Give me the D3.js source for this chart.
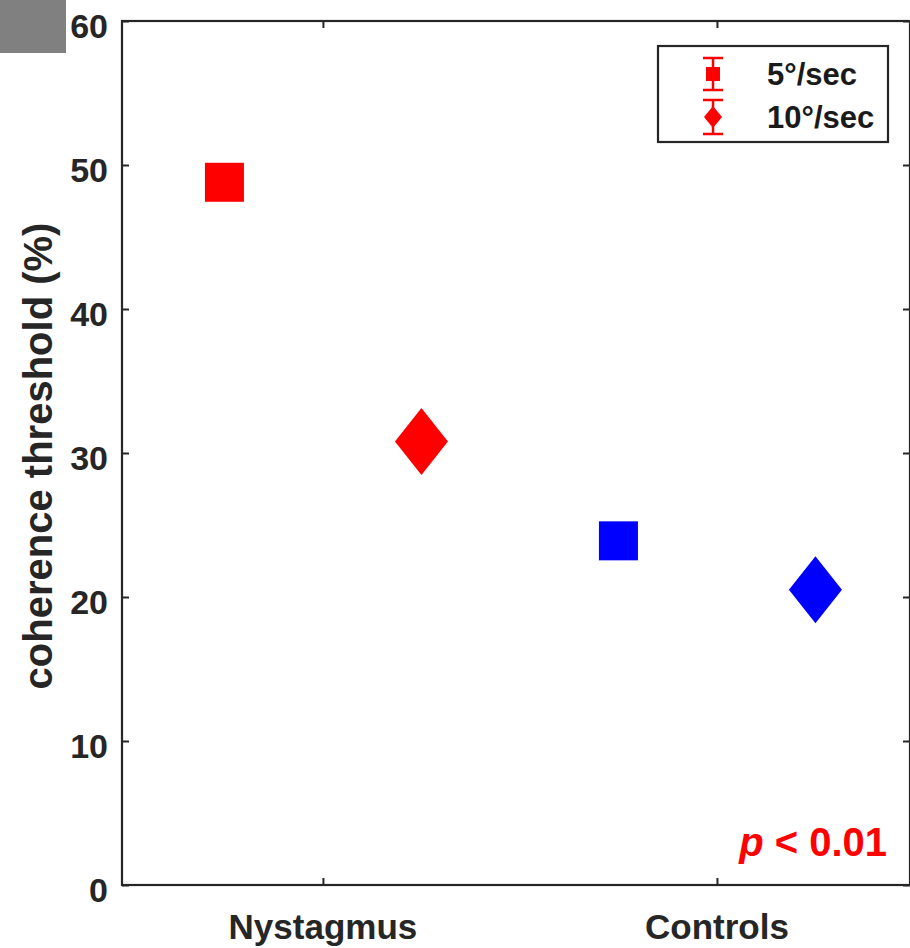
<!DOCTYPE html>
<html>
<head>
<meta charset="utf-8">
<script src="https://cdn.jsdelivr.net/npm/d3@7"></script>
<style>
  html, body { margin: 0; padding: 0; background: #ffffff; }
  svg { display: block; }
  text { font-family: "Liberation Sans", Arial, Helvetica, sans-serif; }
</style>
</head>
<body>
<svg id="chart" width="910" height="948"></svg>
<script>
// Coherence thresholds per group and motion speed
const groups = ["Nystagmus", "Controls"];
const speeds = ["5°/sec", "10°/sec"];
const threshold5 = [48.8, 23.9];
const threshold10 = [30.8, 20.5];
const groupColors = ["#ff0000", "#0000ff"];
const yTicks = [0, 10, 20, 30, 40, 50, 60];
const pLabel = "< 0.01";

const svg = d3.select("#chart");
const plotLeft = 122, plotRight = 910, plotTop = 21, plotBottom = 885;
const axisColor = "#262626";

const x = d3.scaleLinear().domain([0.49, 2.49]).range([plotLeft, plotRight]);
const y = d3.scaleLinear().domain([0, 60]).range([plotBottom, plotTop]);

// Small grey block in the top-left corner
svg.append("rect").attr("x", 0).attr("y", 0).attr("width", 66).attr("height", 53).attr("fill", "#808080");

// Axes (inward ticks, box on)
const tickLen = 7;
const yAxisL = d3.axisLeft(y).tickValues(yTicks).tickSize(-tickLen).tickFormat("");
const yAxisR = d3.axisRight(y).tickValues(yTicks).tickSize(-tickLen).tickFormat("");
const xAxisB = d3.axisBottom(x).tickValues([1, 2]).tickSize(-tickLen).tickFormat("");
const xAxisT = d3.axisTop(x).tickValues([1, 2]).tickSize(-tickLen).tickFormat("");

function styleAxis(g) {
  g.select(".domain").remove();
  g.selectAll(".tick line").attr("stroke", axisColor).attr("stroke-width", 2);
}
svg.append("g").attr("transform", `translate(${plotLeft},0)`).call(yAxisL).call(styleAxis);
svg.append("g").attr("transform", `translate(${plotRight},0)`).call(yAxisR).call(styleAxis);
svg.append("g").attr("transform", `translate(0,${plotBottom})`).call(xAxisB).call(styleAxis);
svg.append("g").attr("transform", `translate(0,${plotTop})`).call(xAxisT).call(styleAxis);

// Frame
svg.append("rect")
  .attr("x", plotLeft).attr("y", plotTop)
  .attr("width", plotRight - plotLeft).attr("height", plotBottom - plotTop)
  .attr("fill", "none").attr("stroke", axisColor).attr("stroke-width", 2.2);

// Y tick labels
svg.append("g").selectAll("text").data(yTicks).join("text")
  .attr("x", 108).attr("y", d => y(d) + 17)
  .attr("text-anchor", "end")
  .attr("font-size", 34).attr("font-weight", "bold").attr("fill", "#262626")
  .text(d => d);

// X tick labels
svg.append("g").selectAll("text").data(groups).join("text")
  .attr("x", (d, i) => x(i + 1)).attr("y", 939)
  .attr("text-anchor", "middle")
  .attr("font-size", 35).attr("font-weight", "bold").attr("fill", "#262626")
  .text(d => d);

// Y axis title
svg.append("text")
  .attr("transform", `translate(52,${(plotTop + plotBottom) / 2 + 3}) rotate(-90)`)
  .attr("text-anchor", "middle")
  .attr("font-size", 40).attr("font-weight", "bold").attr("fill", "#262626")
  .text("coherence threshold (%)");

// Markers
const squareSide = 39;
const diamondW = 53, diamondH = 67;
const offsets = [-0.25, 0.25];

const pts = [];
groups.forEach((g, i) => {
  pts.push({ g: i, s: 0, v: threshold5[i] });
  pts.push({ g: i, s: 1, v: threshold10[i] });
});

const marks = svg.append("g");
pts.forEach(p => {
  const cx = x(p.g + 1 + offsets[p.s]);
  const cy = y(p.v);
  if (p.s === 0) {
    marks.append("rect")
      .attr("x", cx - squareSide / 2).attr("y", cy - squareSide / 2)
      .attr("width", squareSide).attr("height", squareSide)
      .attr("fill", groupColors[p.g]);
  } else {
    marks.append("path")
      .attr("d", `M${cx},${cy - diamondH / 2}L${cx + diamondW / 2},${cy}L${cx},${cy + diamondH / 2}L${cx - diamondW / 2},${cy}Z`)
      .attr("fill", groupColors[p.g]);
  }
});

// Legend
const lg = svg.append("g");
lg.append("rect").attr("x", 658).attr("y", 46).attr("width", 230).attr("height", 96)
  .attr("fill", "#ffffff").attr("stroke", axisColor).attr("stroke-width", 2.2);
const rows = [74, 117];
speeds.forEach((s, i) => {
  const cy = rows[i];
  const mx = 713;
  const half = i === 0 ? 16 : 17;
  const gg = lg.append("g").attr("stroke", "#ff0000").attr("stroke-width", 2.5);
  gg.append("line").attr("x1", mx).attr("x2", mx).attr("y1", cy - half).attr("y2", cy + half);
  gg.append("line").attr("x1", mx - 10).attr("x2", mx + 10).attr("y1", cy - half).attr("y2", cy - half);
  gg.append("line").attr("x1", mx - 10).attr("x2", mx + 10).attr("y1", cy + half).attr("y2", cy + half);
  if (i === 0) {
    lg.append("rect").attr("x", mx - 7).attr("y", cy - 7).attr("width", 14).attr("height", 14).attr("fill", "#ff0000");
  } else {
    lg.append("path").attr("d", `M${mx},${cy - 11}L${mx + 9},${cy}L${mx},${cy + 11}L${mx - 9},${cy}Z`).attr("fill", "#ff0000");
  }
  lg.append("text")
    .attr("x", 767).attr("y", cy + 11)
    .attr("font-size", 31).attr("font-weight", "bold").attr("fill", "#1a1a1a")
    .text(s);
});

// Significance note
const pt = svg.append("text")
  .attr("x", 887).attr("y", 856)
  .attr("text-anchor", "end")
  .attr("font-family", "'Open Sans', 'Noto Sans', sans-serif")
  .attr("font-size", 40).attr("font-weight", "bold").attr("fill", "#ff0000");
pt.append("tspan").attr("font-style", "italic").text("p");
pt.append("tspan").text(" " + pLabel);
</script>
</body>
</html>
